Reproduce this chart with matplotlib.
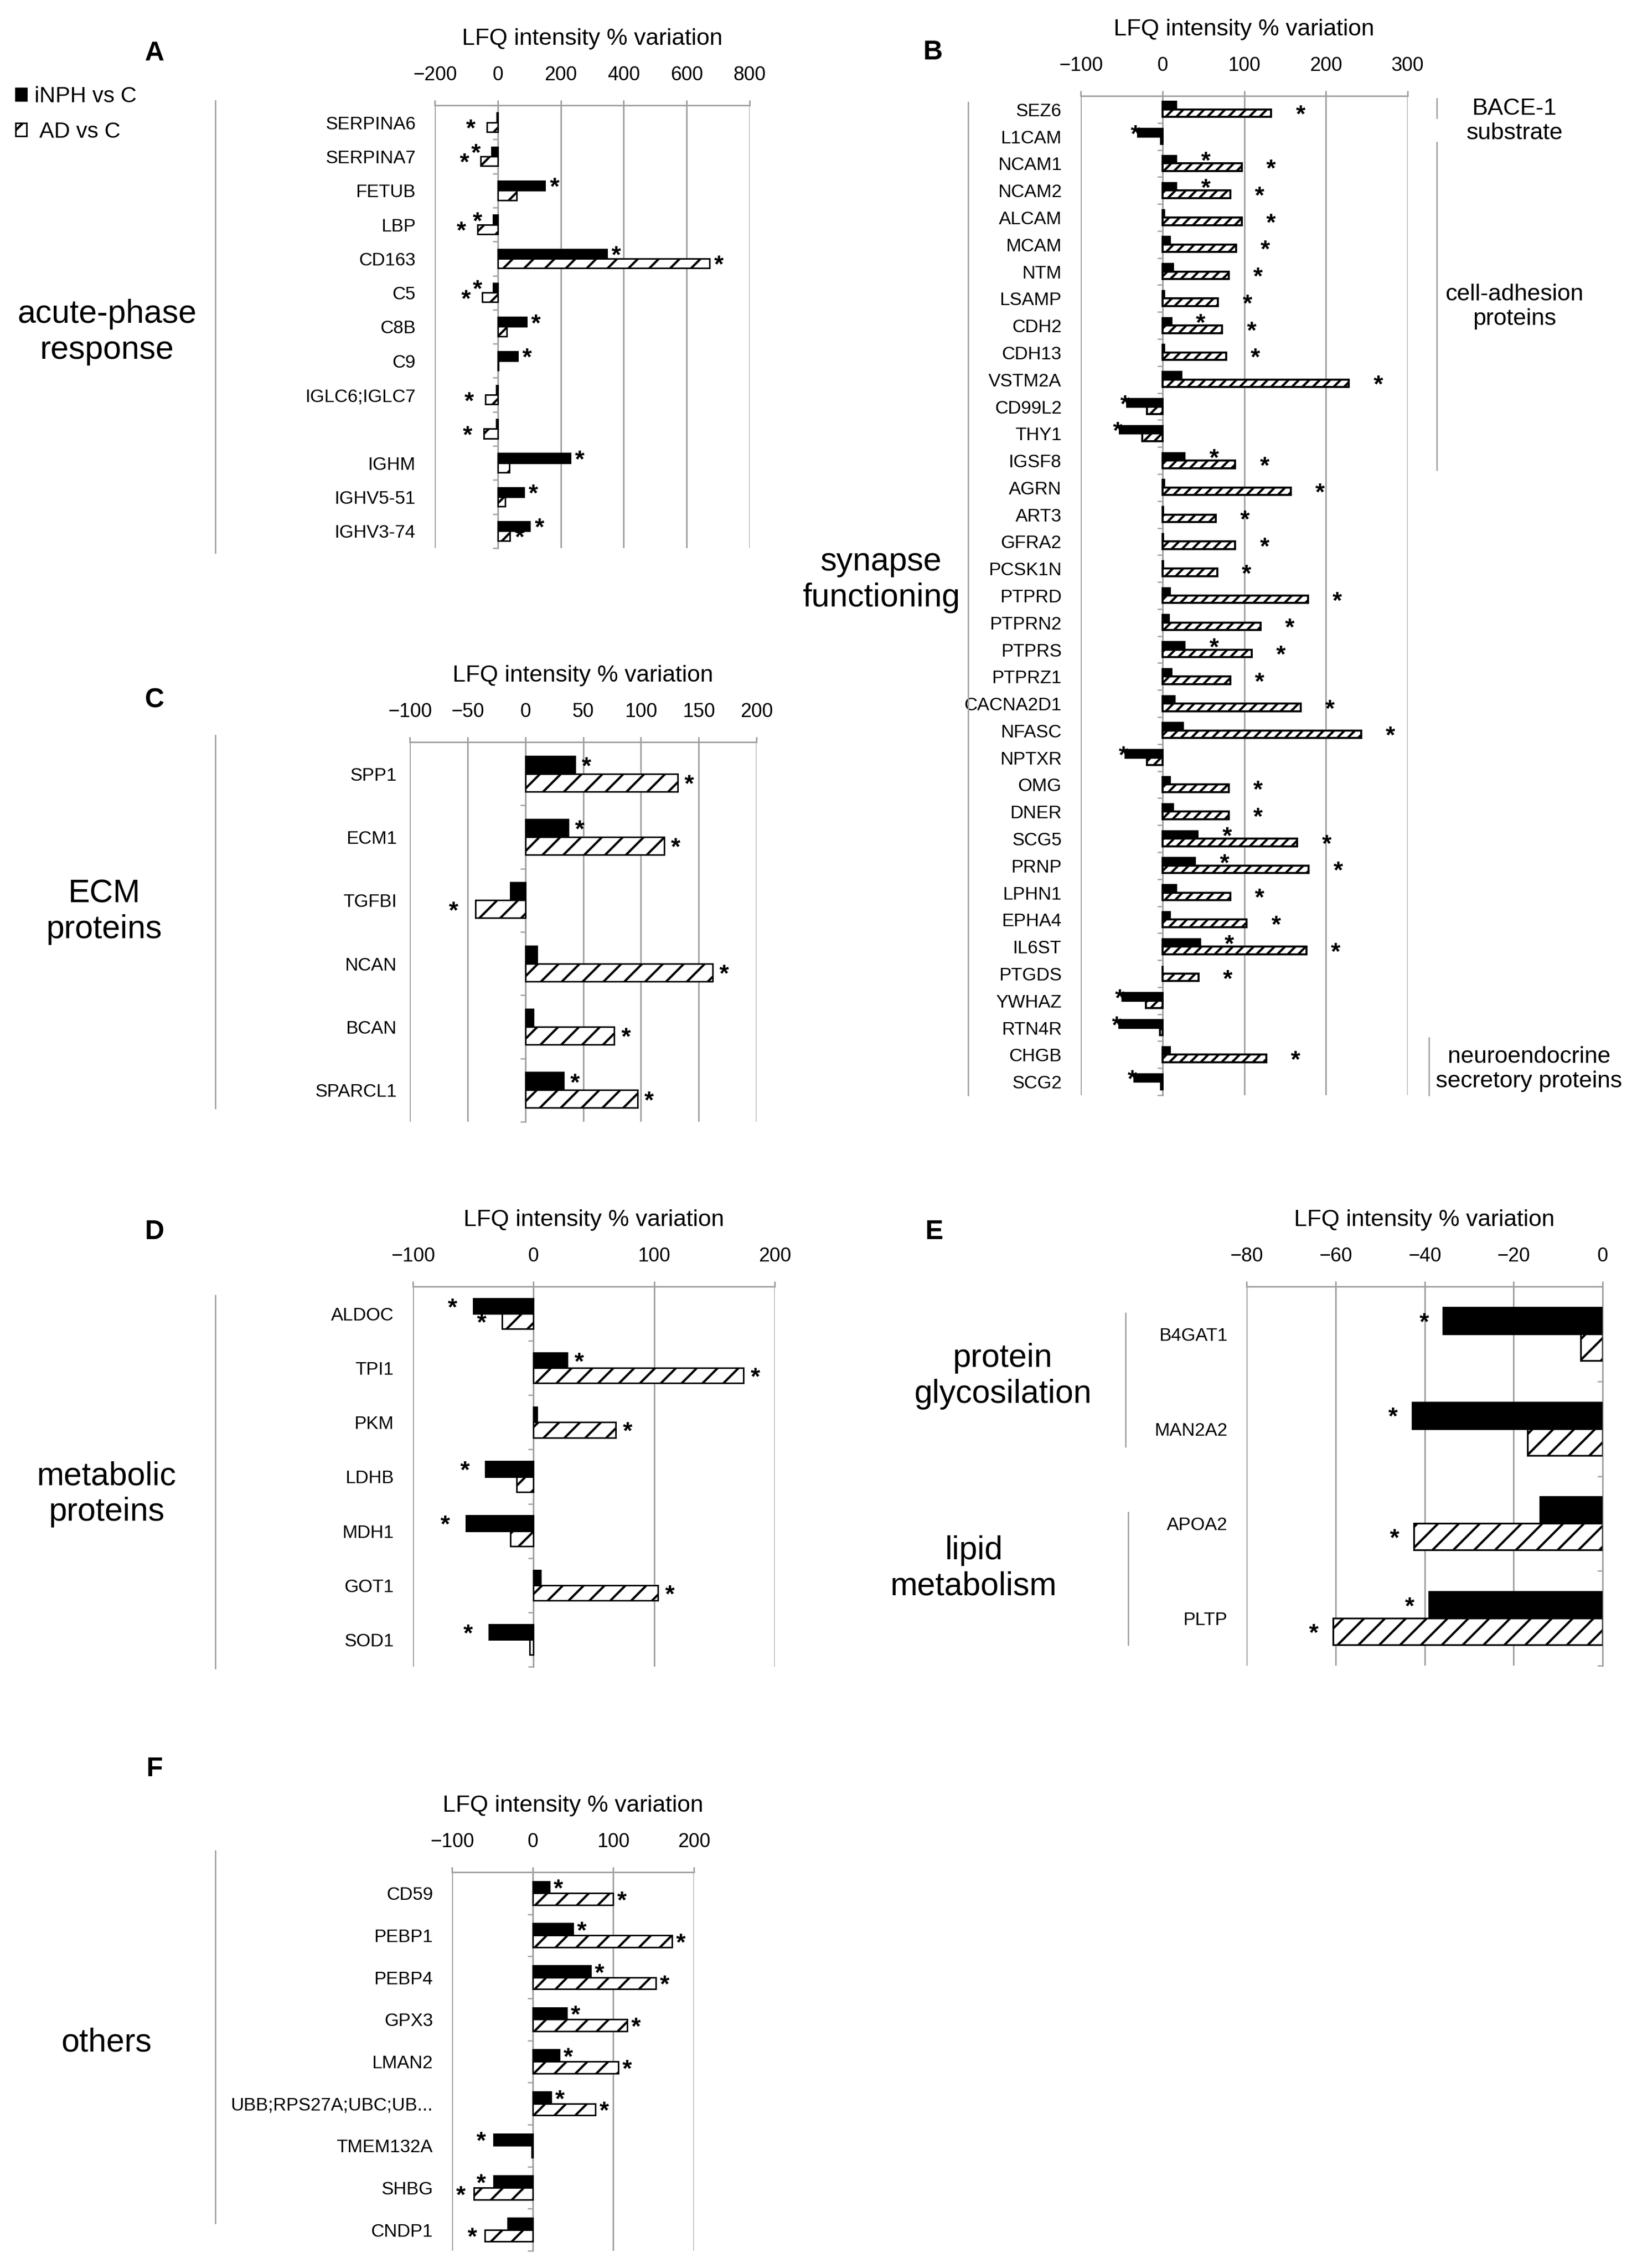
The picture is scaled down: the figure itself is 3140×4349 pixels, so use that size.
import numpy as np
import matplotlib
matplotlib.use("Agg")
import matplotlib.pyplot as plt
from matplotlib.lines import Line2D

W, H, DPI = 3140, 4349, 120
plt.rcParams['font.family'] = ['Liberation Sans', 'DejaVu Sans']
plt.rcParams['hatch.linewidth'] = 2.6
NARROW = ['Liberation Sans Narrow', 'Liberation Sans', 'DejaVu Sans']
GRID = '#a0a0a0'

# ---- A: acute-phase response
cats_a = ["SERPINA6", "SERPINA7", "FETUB", "LBP", "CD163", "C5", "C8B", "C9",
          "IGLC6;IGLC7", "", "IGHM", "IGHV5-51", "IGHV3-74"]
inph_a = [-3, -20, 150, -15, 346, -15, 91, 63, -5, -5, 231, 83, 102]
ad_a = [-35, -55, 60, -65, 672, -50, 28, 2, -40, -45, 36, 24, 39]
sig_inph_a = [0, 1, 1, 1, 1, 1, 1, 1, 0, 0, 1, 1, 1]
sig_ad_a = [1, 1, 0, 1, 1, 1, 0, 0, 1, 1, 0, 0, 1]

# ---- B: synapse functioning
cats_b = ["SEZ6", "L1CAM", "NCAM1", "NCAM2", "ALCAM", "MCAM", "NTM", "LSAMP", "CDH2",
          "CDH13", "VSTM2A", "CD99L2", "THY1", "IGSF8", "AGRN", "ART3", "GFRA2", "PCSK1N",
          "PTPRD", "PTPRN2", "PTPRS", "PTPRZ1", "CACNA2D1", "NFASC", "NPTXR", "OMG", "DNER",
          "SCG5", "PRNP", "LPHN1", "EPHA4", "IL6ST", "PTGDS", "YWHAZ", "RTN4R", "CHGB", "SCG2"]
inph_b = [17, -30, 17, 17, 2, 9, 13, 2, 11, 2, 23, -43, -52, 27, 2, 1, 1, 1,
          9, 8, 27, 11, 15, 25, -45, 9, 13, 43, 40, 17, 9, 46, 0, -49, -53, 9, -34]
ad_b = [133, -2, 97, 83, 97, 90, 81, 68, 73, 78, 228, -19, -25, 89, 157, 65, 89, 67,
        178, 120, 109, 83, 169, 243, -19, 81, 81, 165, 179, 83, 103, 176, 44, -20, -3, 127, -2]
sig_inph_b = [0, 1, 1, 1, 0, 0, 0, 0, 1, 0, 0, 1, 1, 1, 0, 0, 0, 0,
              0, 0, 1, 0, 0, 0, 1, 0, 0, 1, 1, 0, 0, 1, 0, 1, 1, 0, 1]
sig_ad_b = [1, 0, 1, 1, 1, 1, 1, 1, 1, 1, 1, 0, 0, 1, 1, 1, 1, 1,
            1, 1, 1, 1, 1, 1, 0, 1, 1, 1, 1, 1, 1, 1, 1, 0, 0, 1, 0]

# ---- C: ECM proteins
cats_c = ["SPP1", "ECM1", "TGFBI", "NCAN", "BCAN", "SPARCL1"]
inph_c = [43, 37, -13, 10, 7, 33]
ad_c = [132, 120, -43, 162, 77, 97]
sig_inph_c = [1, 1, 0, 0, 0, 1]
sig_ad_c = [1, 1, 1, 1, 1, 1]

# ---- D: metabolic proteins
cats_d = ["ALDOC", "TPI1", "PKM", "LDHB", "MDH1", "GOT1", "SOD1"]
inph_d = [-50, 28, 3, -40, -56, 6, -37]
ad_d = [-26, 174, 68, -14, -19, 103, -3]
sig_inph_d = [1, 1, 0, 1, 1, 0, 1]
sig_ad_d = [1, 1, 1, 0, 0, 1, 0]

# ---- E: glycosilation / lipid metabolism
cats_e = ["B4GAT1", "MAN2A2", "APOA2", "PLTP"]
inph_e = [-35.8, -42.8, -14, -39]
ad_e = [-4.9, -16.9, -42.4, -60.6]
sig_inph_e = [1, 1, 0, 1]
sig_ad_e = [0, 0, 1, 1]

# ---- F: others
cats_f = ["CD59", "PEBP1", "PEBP4", "GPX3", "LMAN2", "UBB;RPS27A;UBC;UB...",
          "TMEM132A", "SHBG", "CNDP1"]
inph_f = [21, 50, 72, 42, 33, 23, -48, -48, -31]
ad_f = [100, 173, 153, 117, 106, 78, -1, -73, -59]
sig_inph_f = [1, 1, 1, 1, 1, 1, 1, 1, 0]
sig_ad_f = [1, 1, 1, 1, 1, 1, 0, 1, 1]

fig = plt.figure(figsize=(W / DPI, H / DPI), dpi=DPI)


def box(l, r, t, b):
    return [l / W, 1 - b / H, (r - l) / W, (b - t) / H]


def panel(rect, cats, inph, ad, s_inph, s_ad, xlim, xticks, off_pos, off_neg,
          pad=22, lw=1.75, hatch='/'):
    ax = fig.add_axes(rect)
    n = len(cats)
    y = np.arange(n)
    h = 0.28
    b1 = ax.barh(y - h / 2, inph, height=h, color='black', edgecolor='black',
                 lw=lw, label='iNPH vs C', zorder=3)
    b2 = ax.barh(y + h / 2, ad, height=h, color='white', edgecolor='black',
                 hatch=hatch, lw=lw, label=' AD vs C', zorder=3)
    for vals, sig, yy in ((inph, s_inph, y - h / 2), (ad, s_ad, y + h / 2)):
        for v, s, yv in zip(vals, sig, yy):
            if s:
                xs = v + off_pos if v >= 0 else v - off_neg
                ax.text(xs, yv, '*', ha='center', va='center_baseline',
                        fontsize=28, fontweight='bold', zorder=5)
    ax.set_xlim(*xlim)
    ax.set_ylim(n - 0.5, -0.5)
    ax.set_xticks(xticks)
    ax.set_yticks(y, cats, fontfamily=NARROW, fontsize=21)
    ax.xaxis.tick_top()
    ax.xaxis.set_label_position('top')
    ax.set_xlabel('LFQ intensity % variation', fontsize=27, labelpad=24)
    ax.tick_params(axis='x', length=6, width=1.75, color=GRID, labelsize=22.5, pad=18)
    ax.tick_params(axis='y', length=0, pad=pad)
    for s in ('left', 'right', 'bottom'):
        ax.spines[s].set_visible(False)
    ax.spines['top'].set_color(GRID)
    ax.spines['top'].set_linewidth(1.75)
    ax.grid(axis='x', color=GRID, lw=1.75, zorder=0)
    ax.set_axisbelow(True)
    # category axis at zero with boundary ticks
    frac = (0 - xlim[0]) / (xlim[1] - xlim[0])
    sec = ax.secondary_yaxis(frac)
    sec.set_alignment('left')
    sec.set_yticks(np.arange(n + 1) - 0.5)
    sec.tick_params(length=6, width=1.5, color=GRID, labelleft=False, labelright=False)
    for s in sec.spines.values():
        s.set_color(GRID)
        s.set_linewidth(1.75)
    return ax, b1, b2


def group_label(x, y, txt, size=37.5):
    fig.text(x / W, 1 - y / H, txt, ha='center', va='center', fontsize=size,
             linespacing=1.2)


def vline(x, y0, y1):
    fig.add_artist(Line2D([x / W, x / W], [1 - y0 / H, 1 - y1 / H], color=GRID, lw=1.6))


def letter(x, y, txt):
    fig.text(x / W, 1 - y / H, txt, ha='center', va='center', fontsize=31,
             fontweight='bold')


axA, hA1, hA2 = panel(box(834, 1438, 202, 1051), cats_a, inph_a, ad_a, sig_inph_a, sig_ad_a,
                      (-200, 800), [-200, 0, 200, 400, 600, 800], 30, 50)
panel(box(2073, 2700, 184, 2100), cats_b, inph_b, ad_b, sig_inph_b, sig_ad_b,
      (-100, 300), [-100, 0, 100, 200, 300], 36, 3, lw=2.3, hatch='//')
panel(box(786, 1451, 1423, 2151), cats_c, inph_c, ad_c, sig_inph_c, sig_ad_c,
      (-100, 200), [-100, -50, 0, 50, 100, 150, 200], 10, 19, pad=15)
panel(box(792, 1486, 2467, 3196), cats_d, inph_d, ad_d, sig_inph_d, sig_ad_d,
      (-100, 200), [-100, 0, 100, 200], 10, 17)
panel(box(2391, 3074, 2467, 3194), cats_e, inph_e, ad_e, sig_inph_e, sig_ad_e,
      (-80, 0), [-80, -60, -40, -20, 0], 3, 4.3, lw=2.0)
panel(box(867, 1331, 3590, 4316), cats_f, inph_f, ad_f, sig_inph_f, sig_ad_f,
      (-100, 200), [-100, 0, 100, 200], 11, 16)

# legend
fig.legend([hA1, hA2], ['iNPH vs C', ' AD vs C'], loc='upper left',
           bbox_to_anchor=(30 / W, 1 - 165 / H), frameon=False, fontsize=25.5,
           handlelength=0.5, handleheight=0.5, handletextpad=0.35,
           labelspacing=0.65, borderaxespad=0, borderpad=0)

# panel letters
letter(296, 103, 'A')
letter(1789, 100, 'B')
letter(296, 1343, 'C')
letter(296, 2362, 'D')
letter(1792, 2363, 'E')
letter(296, 3392, 'F')

# group labels and brackets
group_label(205, 637, 'acute-phase\nresponse')
vline(413, 193, 1060)
group_label(1690, 1112, 'synapse\nfunctioning')
vline(1857, 196, 2100)
group_label(2905, 232, 'BACE-1\nsubstrate', 27)
vline(2756, 189, 226)
group_label(2905, 588, 'cell-adhesion\nproteins', 27)
vline(2756, 273, 901)
group_label(2933, 2050, 'neuroendocrine\nsecretory proteins', 27)
vline(2741, 1990, 2100)
group_label(200, 1748, 'ECM\nproteins')
vline(413, 1410, 2125)
group_label(205, 2865, 'metabolic\nproteins')
vline(413, 2484, 3199)
group_label(1924, 2639, 'protein\nglycosilation')
vline(2159, 2518, 2774)
group_label(1868, 3008, 'lipid\nmetabolism')
vline(2164, 2900, 3154)
group_label(204, 3917, 'others')
vline(413, 3549, 4263)

fig.savefig('out.png', dpi=DPI)
